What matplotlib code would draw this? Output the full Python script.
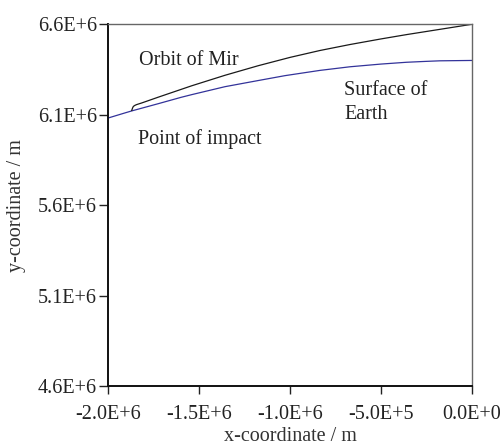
import matplotlib
matplotlib.use("Agg")
import matplotlib.pyplot as plt
from matplotlib.ticker import FixedLocator

plt.rcParams['font.family'] = ['Liberation Serif', 'DejaVu Serif']

# Orbit of Mir
mir_x = [-1.871e6, -1.866e6, -1.862e6, -1.853e6, -1.844e6, -1.816e6, -1.725e6, -1.541e6,
         -1.358e6, -1.175e6, -1.0e6, -0.836e6, -0.671e6, -0.5e6, -0.359e6, -0.176e6, 0.0]
mir_y = [6.124e6, 6.138e6, 6.146e6, 6.152e6, 6.156e6, 6.165e6, 6.197e6, 6.260e6,
         6.318e6, 6.371e6, 6.417e6, 6.455e6, 6.488e6, 6.519e6, 6.543e6, 6.572e6, 6.600e6]

# Surface of Earth
earth_x = [-2.0e6, -1.908e6, -1.871e6, -1.725e6, -1.6e6, -1.541e6, -1.358e6, -1.175e6,
           -1.028e6, -0.836e6, -0.671e6, -0.5e6, -0.359e6, -0.25e6, -0.176e6, 0.0]
earth_y = [6.082e6, 6.110e6, 6.121e6, 6.161e6, 6.196e6, 6.211e6, 6.255e6, 6.289e6,
           6.316e6, 6.345e6, 6.365e6, 6.380e6, 6.390e6, 6.395e6, 6.398e6, 6.400e6]

x_ticks = [-2.0e6, -1.5e6, -1.0e6, -5.0e5, 0.0]
x_labels = ["-2.0E+6", "-1.5E+6", "-1.0E+6", "-5.0E+5", "0.0E+0"]
y_ticks = [4.6e6, 5.1e6, 5.6e6, 6.1e6, 6.6e6]
y_labels = ["4.6E+6", "5.1E+6", "5.6E+6", "6.1E+6", "6.6E+6"]

fs = 14.5
fig = plt.figure(figsize=(5.02, 4.48), dpi=100)
ax = fig.add_axes([0.2157, 0.1384, 0.7243, 0.8074])

ax.plot(earth_x, earth_y, color='#33339a', lw=0.9)
ax.plot(mir_x, mir_y, color='#1a1a1a', lw=0.9)

ax.set_xlim(-2.0e6, 0.0)
ax.set_ylim(4.6e6, 6.6e6)
ax.xaxis.set_major_locator(FixedLocator(x_ticks))
ax.yaxis.set_major_locator(FixedLocator(y_ticks))
ax.set_xticklabels(x_labels)
ax.set_yticklabels(y_labels)
ax.tick_params(axis='x', direction='out', length=5.5, width=1, labelsize=fs, colors='#222222', pad=8)
ax.tick_params(axis='y', direction='out', length=6.5, width=1, labelsize=fs, colors='#222222', pad=1.5)

for side in ['left', 'bottom']:
    ax.spines[side].set_linewidth(1.4)
    ax.spines[side].set_color('#111111')
for side in ['top', 'right']:
    ax.spines[side].set_linewidth(1.0)
    ax.spines[side].set_color('#666666')

ax.set_xlabel("x-coordinate / m", fontsize=fs, color='#333333', labelpad=2)
ax.set_ylabel("y-coordinate / m", fontsize=fs, color='#333333', labelpad=8.5)

tc = '#222222'
ax.text(-1.83e6, 6.398e6, "Orbit of Mir", fontsize=fs, color=tc, va='center', ha='left')
ax.text(-0.702e6, 6.233e6, "Surface of", fontsize=fs, color=tc, va='center', ha='left')
ax.text(-0.702e6, 6.101e6, "Earth", fontsize=fs, color=tc, va='center', ha='left')
ax.text(-1.838e6, 5.965e6, "Point of impact", fontsize=fs, color=tc, va='center', ha='left')

fig.savefig("out.png", dpi=100)
